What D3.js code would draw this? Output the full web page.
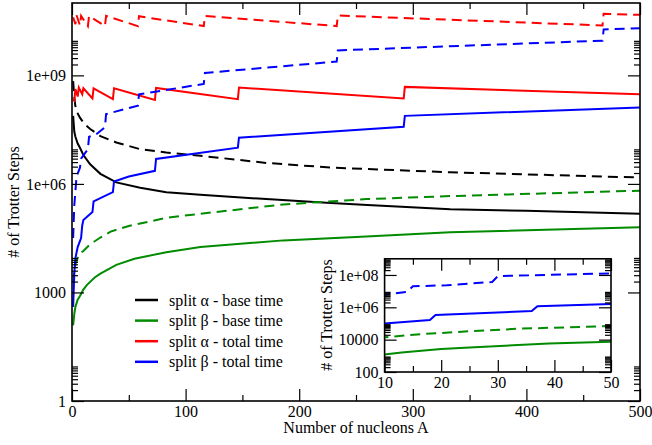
<!DOCTYPE html>
<html>
<head>
<meta charset="utf-8">
<script src="https://cdn.jsdelivr.net/npm/d3@7"></script>
</head>
<body style="margin:0; background:#fff">
<svg width="652" height="445" style="display:block"></svg>
<script>
// values: nucleon number A and Trotter steps N
// split alpha, base time
const aBaseSolidA = [1, 2, 3, 5, 7, 10, 16, 25, 39, 60, 83, 113, 171, 224, 260, 333, 400, 500];
const aBaseSolidN = [7.6e7, 2.8e7, 2.0e7, 1.3e7, 1.0e7, 6.3e6, 3.5e6, 1.9e6, 1.1e6, 7.8e5, 5.9e5, 5.0e5, 3.8e5, 3.0e5, 2.6e5, 2.0e5, 1.8e5, 1.5e5];
const aBaseDashA = [1, 2, 3, 5, 7, 11, 16, 25, 39, 60, 83, 113, 171, 230, 333, 500];
const aBaseDashN = [6.9e8, 2.5e8, 1.4e8, 8.9e7, 6.8e7, 4.5e7, 3.3e7, 2.1e7, 1.4e7, 9.1e6, 7.4e6, 6.0e6, 3.8e6, 2.8e6, 2.1e6, 1.5e6];
// split beta, base time
const bBaseSolidA = [1, 2, 3, 5, 7, 10, 13, 20, 25, 39, 55, 83, 113, 186, 259, 333, 500];
const bBaseSolidN = [123, 250, 400, 630, 800, 1200, 1600, 2600, 3300, 5800, 8500, 1.3e4, 1.8e4, 2.75e4, 3.5e4, 4.6e4, 6.3e4];
const bBaseDashA = [1, 2, 3, 5, 7, 10, 17, 20, 25, 34, 50, 83, 113, 186, 259, 333, 500];
const bBaseDashN = [1900, 4000, 6000, 8900, 1.2e4, 1.4e4, 2.3e4, 2.6e4, 3.3e4, 4.8e4, 6.9e4, 1.15e5, 1.5e5, 2.7e5, 3.8e5, 4.6e5, 6.5e5];
// split alpha, total time
const aTotSolidA = [1, 2, 3, 5, 6, 9, 10, 18, 19, 36, 37, 73, 74, 146, 147, 292, 293, 500];
const aTotSolidN = [2.2e8, 2.0e8, 4.2e8, 2.6e8, 4.6e8, 3.0e8, 4.4e8, 2.3e8, 4.4e8, 2.2e8, 4.4e8, 2.1e8, 4.5e8, 2.2e8, 4.6e8, 2.3e8, 4.8e8, 3.0e8];
const aTotDashA = [1, 3, 4, 7, 8, 14, 15, 29, 30, 58, 59, 116, 117, 233, 234, 467, 468, 500];
const aTotDashN = [4.0e10, 2.6e10, 4.6e10, 2.4e10, 4.4e10, 2.3e10, 4.4e10, 2.3e10, 4.4e10, 2.3e10, 4.3e10, 2.3e10, 4.4e10, 2.3e10, 4.5e10, 2.4e10, 5.0e10, 4.7e10];
// split beta, total time
const bTotSolidA = [1, 2, 3, 5, 8, 9, 10, 18, 19, 36, 37, 50, 73, 74, 146, 147, 292, 293, 500];
const bTotSolidN = [400, 3200, 8900, 1.8e4, 3.2e4, 7.1e4, 1.0e5, 1.66e5, 3.3e5, 5.9e5, 1.17e6, 1.6e6, 2.3e6, 4.9e6, 1.0e7, 1.9e7, 3.8e7, 7.6e7, 1.3e8];
const bTotDashA = [1, 2, 3, 4, 7, 8, 14, 15, 21, 29, 30, 58, 59, 116, 117, 233, 234, 467, 468, 500];
const bTotDashN = [3.2e4, 2.5e5, 6.3e5, 1.6e6, 2.8e6, 5.0e6, 9.1e6, 2.0e7, 2.3e7, 3.7e7, 8.5e7, 1.45e8, 3.0e8, 5.8e8, 1.17e9, 2.4e9, 4.9e9, 9.1e9, 1.86e10, 2.0e10];

const legendLabels = ["split \u03b1 - base time", "split \u03b2 - base time", "split \u03b1 - total time", "split \u03b2 - total time"];
const mainXTicks = [0, 100, 200, 300, 400, 500];
const mainYTicks = [1, 1e3, 1e6, 1e9];
const mainYLabels = ["1", "1000", "1e+06", "1e+09"];
const insetXTicks = [10, 20, 30, 40, 50];
const insetYTicks = [1e2, 1e4, 1e6, 1e8];
const insetYLabels = ["100", "10000", "1e+06", "1e+08"];

const colors = ["#000000", "#008b00", "#ff0000", "#0000ff"];
const serif = "'Liberation Serif'";

const series = [
  { A: aBaseSolidA, N: aBaseSolidN, c: 0, dash: false, inset: false },
  { A: aBaseDashA, N: aBaseDashN, c: 0, dash: true, inset: false },
  { A: bBaseSolidA, N: bBaseSolidN, c: 1, dash: false, inset: true },
  { A: bBaseDashA, N: bBaseDashN, c: 1, dash: true, inset: true },
  { A: aTotSolidA, N: aTotSolidN, c: 2, dash: false, inset: false },
  { A: aTotDashA, N: aTotDashN, c: 2, dash: true, inset: false },
  { A: bTotSolidA, N: bTotSolidN, c: 3, dash: false, inset: true },
  { A: bTotDashA, N: bTotDashN, c: 3, dash: true, inset: true }
];

let svg = d3.select("svg");

function minorLog(majors) {
  let out = [];
  majors.forEach(m => { for (let k = 2; k <= 9; k++) out.push(m * k); });
  return out;
}

// draws a boxed panel with inward ticks on every side
function panel(id, box, xDom, yDom, xMajor, xMinor, yMajor, yMinor, yLabels, list) {
  let g = svg.append("g").attr("id", id);
  let x = d3.scaleLinear().domain(xDom).range([box.left, box.right]);
  let y = d3.scaleLog().domain(yDom).range([box.bottom, box.top]);
  let yMinorIn = yMinor.filter(v => v > yDom[0] && v < yDom[1]);

  g.append("rect")
    .attr("x", box.left).attr("y", box.top)
    .attr("width", box.right - box.left).attr("height", box.bottom - box.top)
    .attr("fill", "#fff");

  g.append("clipPath").attr("id", id + "-clip")
    .append("rect")
    .attr("x", box.left).attr("y", box.top)
    .attr("width", box.right - box.left).attr("height", box.bottom - box.top);

  let line = d3.line().x(d => x(d[0])).y(d => y(d[1]));
  g.append("g").attr("clip-path", "url(#" + id + "-clip)")
    .selectAll("path")
    .data(list)
    .enter().append("path")
    .attr("d", s => line(s.A.map((a, i) => [a, s.N[i]])))
    .attr("fill", "none")
    .attr("stroke", s => colors[s.c])
    .attr("stroke-width", 2)
    .attr("stroke-dasharray", s => s.dash ? "10,6" : null);

  function ax(axis, tx, ty) {
    let a = g.append("g").attr("transform", "translate(" + tx + "," + ty + ")").call(axis);
    a.select(".domain").remove();
    a.selectAll("line").attr("stroke-width", 1.2);
    a.selectAll("text").attr("fill", "#000")
      .style("font-family", serif).style("font-size", "16px");
    return a;
  }

  ax(d3.axisBottom(x).tickValues(xMajor).tickSize(-12).tickPadding(5).tickFormat(d3.format("d")), 0, box.bottom);
  ax(d3.axisBottom(x).tickValues(xMinor).tickSize(-6).tickFormat(""), 0, box.bottom);
  ax(d3.axisTop(x).tickValues(xMajor).tickSize(-12).tickFormat(""), 0, box.top);
  ax(d3.axisTop(x).tickValues(xMinor).tickSize(-6).tickFormat(""), 0, box.top);
  ax(d3.axisLeft(y).tickValues(yMajor).tickSize(-12).tickPadding(6)
    .tickFormat((d, i) => yLabels[i]), box.left, 0);
  ax(d3.axisLeft(y).tickValues(yMinorIn).tickSize(-6).tickFormat(""), box.left, 0);
  ax(d3.axisRight(y).tickValues(yMajor).tickSize(-12).tickFormat(""), box.right, 0);
  ax(d3.axisRight(y).tickValues(yMinorIn).tickSize(-6).tickFormat(""), box.right, 0);

  g.append("rect")
    .attr("x", box.left).attr("y", box.top)
    .attr("width", box.right - box.left).attr("height", box.bottom - box.top)
    .attr("fill", "none").attr("stroke", "#000").attr("stroke-width", 1.6);

  return g;
}

function label(g, text) {
  return g.append("text")
    .style("font-family", serif).style("font-size", "16px")
    .attr("fill", "#000")
    .text(text);
}

// main graph
let main = panel("main", { left: 72, right: 640, top: 3, bottom: 401 },
  [0, 500], [1, 1e11],
  mainXTicks, [50, 150, 250, 350, 450],
  mainYTicks, minorLog(mainYTicks), mainYLabels, series);

label(main, "Number of nucleons A")
  .attr("x", 356).attr("y", 433)
  .attr("text-anchor", "middle");

label(main, "# of Trotter Steps")
  .attr("transform", "translate(19,202) rotate(-90)")
  .attr("text-anchor", "middle");

// legend
let legend = main.append("g").attr("id", "legend");
let item = legend.selectAll("g")
  .data(legendLabels)
  .enter().append("g")
  .attr("transform", (d, i) => "translate(0," + (300 + i * 20.6) + ")");
item.append("line")
  .attr("x1", 135).attr("x2", 158)
  .attr("stroke", (d, i) => colors[i]).attr("stroke-width", 2.5);
item.append("text")
  .attr("x", 169).attr("dy", "0.35em")
  .style("font-family", serif).style("font-size", "16px")
  .text(d => d);

// inset graph
let inset = panel("inset", { left: 384.6, right: 611, top: 258.8, bottom: 372 },
  [10, 50], [1e2, 1e9],
  insetXTicks, [15, 25, 35, 45],
  insetYTicks, minorLog(insetYTicks), insetYLabels, series.filter(s => s.inset));

label(inset, "# of Trotter Steps")
  .attr("transform", "translate(332,315) rotate(-90)")
  .attr("text-anchor", "middle");
</script>
</body>
</html>
